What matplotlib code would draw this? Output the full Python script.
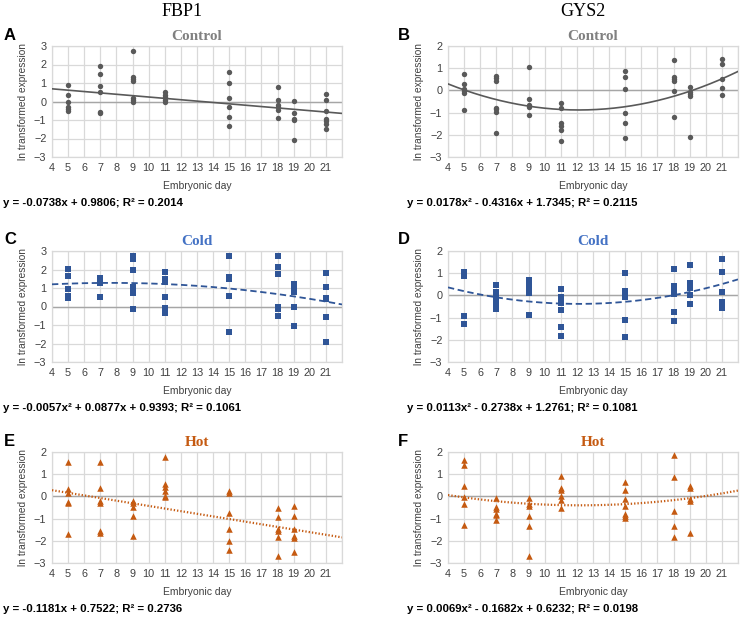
import numpy as np
import matplotlib
matplotlib.use("Agg")
import matplotlib.pyplot as plt

#%% Data
# FBP1 - Control
fbp1_ctrl_x = [5]*6 + [7]*6 + [9]*7 + [11]*5 + [15]*6 + [18]*6 + [19]*5 + [21]*7
fbp1_ctrl_y = [0.88, 0.36, 0.0, -0.29, -0.4, -0.52,
               1.94, 1.47, 0.86, 0.53, -0.57, -0.62,
               2.73, 1.31, 1.2, 1.09, 0.21, 0.07, -0.03,
               0.5, 0.37, 0.23, 0.1, -0.03,
               1.59, 1.0, 0.21, -0.3, -0.84, -1.31,
               0.8, 0.1, -0.17, -0.3, -0.44, -0.89,
               0.05, -0.64, -0.95, -1.02, -2.06,
               0.41, 0.08, -0.5, -0.95, -1.04, -1.22, -1.5]
# GYS2 - Control
gys2_ctrl_x = [5]*6 + [7]*7 + [9]*5 + [11]*6 + [15]*6 + [18]*6 + [19]*5 + [21]*5
gys2_ctrl_y = [0.72, 0.3, 0.06, -0.01, -0.1, -0.9,
               0.64, 0.54, 0.43, -0.78, -0.85, -0.96, -1.91,
               1.07, -0.39, -0.66, -0.73, -1.09,
               -0.57, -0.79, -1.45, -1.6, -1.78, -2.3,
               0.87, 0.6, 0.06, -1.01, -1.48, -2.15,
               1.39, 0.6, 0.51, 0.42, -0.04, -1.22,
               0.16, -0.07, -0.16, -0.25, -2.1,
               1.43, 1.18, 0.52, 0.09, -0.21]
# FBP1 - Cold
fbp1_cold_x = [5]*5 + [7]*4 + [9]*7 + [11]*7 + [15]*5 + [18]*6 + [19]*6 + [21]*6
fbp1_cold_y = [2.01, 1.65, 0.92, 0.59, 0.45,
               1.55, 1.4, 1.25, 0.52,
               2.75, 2.57, 1.98, 1.04, 0.9, 0.72, -0.13,
               1.85, 1.51, 1.35, 0.54, -0.09, -0.22, -0.36,
               2.75, 1.6, 1.51, 0.56, -1.37,
               2.75, 2.16, 1.76, -0.04, -0.16, -0.49,
               1.2, 1.05, 0.92, 0.8, -0.05, -1.04,
               1.8, 1.08, 0.45, 0.38, -0.57, -1.92]
# GYS2 - Cold
gys2_cold_x = [5]*4 + [7]*6 + [9]*5 + [11]*7 + [15]*6 + [18]*6 + [19]*6 + [21]*5
gys2_cold_y = [1.04, 0.89, -0.94, -1.29,
               0.46, 0.16, -0.12, -0.27, -0.42, -0.6,
               0.68, 0.43, 0.28, 0.13, -0.89,
               0.31, -0.05, -0.2, -0.32, -0.68, -1.44, -1.82,
               1.03, 0.2, 0.08, -0.05, -1.13, -1.88,
               1.21, 0.43, 0.14, 0.05, -0.77, -1.14,
               1.39, 0.55, 0.43, 0.32, 0.02, -0.4,
               1.64, 1.07, 0.16, -0.3, -0.57]
# FBP1 - Hot
fbp1_hot_x = [5]*6 + [7]*6 + [9]*5 + [11]*6 + [15]*6 + [18]*6 + [19]*6
fbp1_hot_y = [1.56, 0.33, 0.15, -0.24, -0.3, -1.71,
              1.56, 0.38, -0.21, -0.28, -1.57, -1.65,
              -0.19, -0.31, -0.49, -0.87, -1.8,
              1.76, 0.56, 0.44, 0.26, 0.03, -0.04,
              0.26, 0.15, -0.73, -1.49, -2.01, -2.4,
              -0.52, -0.93, -1.47, -1.58, -1.85, -2.68,
              -0.43, -0.87, -1.47, -1.8, -1.89, -2.49]
# GYS2 - Hot
gys2_hot_x = [5]*6 + [7]*6 + [9]*6 + [11]*6 + [15]*7 + [18]*5 + [19]*5
gys2_hot_y = [1.64, 1.42, 0.45, -0.03, -0.36, -1.28,
              -0.06, -0.48, -0.57, -0.78, -0.85, -1.06,
              -0.06, -0.34, -0.42, -0.88, -1.34, -2.67,
              0.94, 0.37, 0.27, 0.03, -0.18, -0.51,
              0.66, 0.27, -0.12, -0.43, -0.78, -0.87, -0.99,
              1.88, 0.88, -0.67, -1.33, -1.81,
              0.48, 0.39, -0.12, -0.21, -1.63]

# trendline coefficients (highest power first), as printed under each panel
fit_A = [-0.0738, 0.9806]
fit_B = [0.0178, -0.4316, 1.7345]
fit_C = [-0.0057, 0.0877, 0.9393]
fit_D = [0.0113, -0.2738, 1.2761]
fit_E = [-0.1181, 0.7522]
fit_F = [0.0069, -0.1682, 0.6232]

eq_A = "y = -0.0738x + 0.9806; R² = 0.2014"
eq_B = "y = 0.0178x² - 0.4316x + 1.7345; R² = 0.2115"
eq_C = "y = -0.0057x² + 0.0877x + 0.9393; R² = 0.1061"
eq_D = "y = 0.0113x² - 0.2738x + 1.2761; R² = 0.1081"
eq_E = "y = -0.1181x + 0.7522; R² = 0.2736"
eq_F = "y = 0.0069x² - 0.1682x + 0.6232; R² = 0.0198"

#%% Styles
W, H = 741, 617
GRID = '#d9d9d9'
ZERO = '#a6a6a6'
TXT = '#404040'
SANS = 'Liberation Sans'

panels = [
    # letter, x, y, fit, eq, ylim, marker, mcolor, msize, ls, title, tcolor, left, top
    ('A', fbp1_ctrl_x, fbp1_ctrl_y, fit_A, eq_A, 3, 'o', '#595959', 15, '-', 'Control', '#808080', 52, 46),
    ('B', gys2_ctrl_x, gys2_ctrl_y, fit_B, eq_B, 2, 'o', '#595959', 15, '-', 'Control', '#808080', 448, 46),
    ('C', fbp1_cold_x, fbp1_cold_y, fit_C, eq_C, 3, 's', '#2f5597', 14, '--', 'Cold', '#4472c4', 52, 251),
    ('D', gys2_cold_x, gys2_cold_y, fit_D, eq_D, 2, 's', '#2f5597', 14, '--', 'Cold', '#4472c4', 448, 251),
    ('E', fbp1_hot_x, fbp1_hot_y, fit_E, eq_E, 2, '^', '#c55a11', 22, ':', 'Hot', '#c55a11', 52, 452),
    ('F', gys2_hot_x, gys2_hot_y, fit_F, eq_F, 2, '^', '#c55a11', 22, ':', 'Hot', '#c55a11', 448, 452),
]

fig = plt.figure(figsize=(W/100, H/100), dpi=100)
fig.patch.set_facecolor('white')

fig.text(182/W, 1 - 12/H, 'FBP1', family='Liberation Serif', fontsize=13,
         ha='center', va='center', color='black')
fig.text(583/W, 1 - 12/H, 'GYS2', family='Liberation Serif', fontsize=13,
         ha='center', va='center', color='black')

xs = np.linspace(4, 22, 200)
for (let, x, y, fit, eq, ytop, mk, mc, ms, ls, title, tc, left, top) in panels:
    ax = fig.add_axes([left/W, 1 - (top + 111)/H, 290/W, 111/H])
    ax.set_xlim(4, 22)
    ax.set_ylim(-3, ytop)
    ax.set_xticks(range(4, 23))
    ax.set_xticklabels([str(d) for d in range(4, 22)] + [''])
    ax.set_yticks(range(-3, ytop + 1))
    ax.grid(True, color=GRID, lw=0.9)
    ax.set_axisbelow(True)
    for s in ax.spines.values():
        s.set_color(GRID)
        s.set_linewidth(0.9)
    ax.axhline(0, color=ZERO, lw=1.0, zorder=1)
    ax.tick_params(length=0, labelsize=7.8, colors=TXT, pad=4)
    for lab in ax.get_xticklabels() + ax.get_yticklabels():
        lab.set_family(SANS)
    ax.scatter(x, y, marker=mk, s=ms, color=mc, zorder=3, linewidths=0)
    if ls == ':':
        ax.plot(xs, np.polyval(fit, xs), color=mc, lw=1.6, ls=(0, (0.6, 0.9)), zorder=4)
    elif ls == '--':
        ax.plot(xs, np.polyval(fit, xs), color=mc, lw=1.3, ls=(0, (3.5, 2)), zorder=4)
    else:
        ax.plot(xs, np.polyval(fit, xs), color=mc, lw=1.2, zorder=4)
    ax.set_xlabel('Embryonic day', family=SANS, fontsize=7.5, color=TXT, labelpad=6)
    ax.set_ylabel('ln transformed expression', family=SANS, fontsize=7.3, color=TXT, labelpad=4)
    ax.text(0.5, 1.09, title, transform=ax.transAxes, ha='center', va='center',
            family='Liberation Serif', fontweight='bold', fontsize=11, color=tc)
    # panel letter and equation
    lx = 4 if left < 200 else 398
    fig.text(lx/W, 1 - (top - 11)/H, let, family=SANS, fontsize=12, fontweight='bold',
             ha='left', va='center', color='black')
    ex = 3 if left < 200 else 407
    fig.text(ex/W, 1 - (top + 157)/H, eq, family=SANS, fontsize=8.2, fontweight='bold',
             ha='left', va='center', color='black')

plt.savefig('out.png', dpi=100)
